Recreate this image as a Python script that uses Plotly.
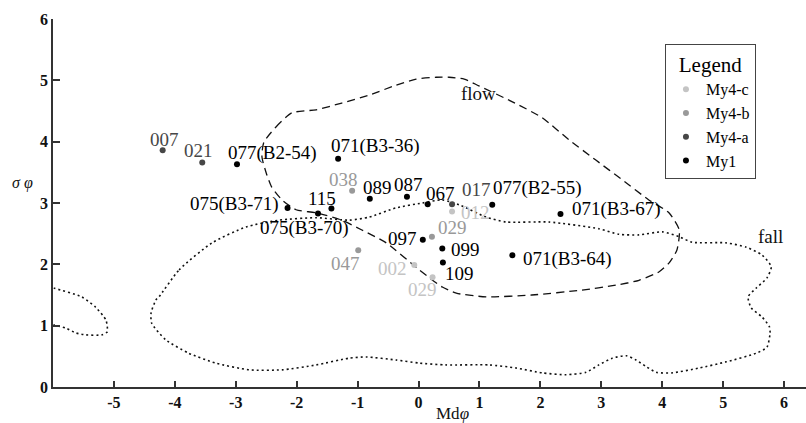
import plotly.graph_objects as go

# ---------------- data ----------------
MY1_LABELS = ["077(B2-54)", "071(B3-36)", "089", "087", "115", "075(B3-70)", "075(B3-71)",
              "067", "077(B2-55)", "071(B3-67)", "097", "099", "109", "071(B3-64)"]
MY1_MD = [-2.98, -1.32, -0.80, -0.19, -1.43, -1.65, -2.15, 0.15, 1.21, 2.33, 0.07, 0.39, 0.40, 1.54]
MY1_SIGMA = [3.63, 3.72, 3.07, 3.10, 2.91, 2.83, 2.92, 2.98, 2.97, 2.82, 2.40, 2.26, 2.03, 2.15]

MY4A_LABELS = ["007", "021", "017"]
MY4A_MD = [-4.20, -3.55, 0.55]
MY4A_SIGMA = [3.86, 3.66, 2.98]

MY4B_LABELS = ["038", "029", "047"]
MY4B_MD = [-1.09, 0.22, -0.99]
MY4B_SIGMA = [3.20, 2.45, 2.23]

MY4C_LABELS = ["012", "002", "029"]
MY4C_MD = [0.55, -0.07, 0.23]
MY4C_SIGMA = [2.86, 1.99, 1.79]

# field boundaries (Md phi, sigma phi)
FLOW_MD = [-2.54, -2.34, -2.08, -1.68, -1.26, -0.81, -0.37, -0.04, 0.29, 0.50, 0.75, 0.99, 1.54,
           2.03, 2.47, 2.91, 3.34, 3.78, 4.11, 4.28, 4.24, 4.11, 3.95, 3.62, 3.24, 2.68, 1.86,
           1.11, 0.62, 0.39, 0.01, -0.53, -0.93, -1.26, -1.68, -2.01, -2.24, -2.41, -2.50,
           -2.57, -2.54]
FLOW_SIGMA = [3.99, 4.24, 4.47, 4.52, 4.63, 4.76, 4.92, 5.02, 5.05, 5.05, 5.02, 4.91, 4.65,
              4.39, 4.03, 3.70, 3.38, 3.05, 2.84, 2.56, 2.23, 2.02, 1.88, 1.74, 1.66, 1.58, 1.50,
              1.47, 1.53, 1.63, 1.91, 2.35, 2.56, 2.72, 2.84, 2.89, 3.05, 3.26, 3.49,
              3.75, 3.99]

FALL_MD = [-4.26, -3.93, -3.39, -2.83, -2.29, -1.68, -1.14, -0.81, -0.37, 0.06, 0.39, 0.67,
           1.11, 1.44, 2.14, 2.96, 3.29, 3.62, 4.00, 4.28, 4.49, 5.05, 5.38, 5.64, 5.79, 5.72,
           5.54, 5.41, 5.46, 5.64, 5.76, 5.77, 5.72, 5.54, 5.05, 4.61, 4.16, 3.90, 3.74, 3.57,
           3.41, 3.18, 2.96, 2.75, 2.42, 2.03, 1.60, 1.16, 0.45, 0.01, -0.37, -0.86, -1.14,
           -1.68, -2.24, -2.78, -3.33, -3.77, -4.15, -4.38, -4.39, -4.31, -4.26]
FALL_SIGMA = [1.47, 1.91, 2.35, 2.61, 2.72, 2.76, 2.72, 2.77, 2.92, 3.00, 3.05, 2.97,
              2.77, 2.69, 2.69, 2.58, 2.49, 2.48, 2.53, 2.45, 2.36, 2.35, 2.28, 2.15, 1.96, 1.78,
              1.61, 1.47, 1.29, 1.14, 0.98, 0.88, 0.65, 0.55, 0.41, 0.31, 0.23, 0.24, 0.33, 0.44,
              0.51, 0.47, 0.36, 0.24, 0.20, 0.23, 0.31, 0.36, 0.36, 0.39, 0.44, 0.49, 0.47,
              0.36, 0.28, 0.28, 0.39, 0.55, 0.77, 1.04, 1.21, 1.42, 1.47]

FALL2_MD = [-6.15, -5.98, -5.53, -5.30, -5.13, -5.11, -5.20, -5.46, -5.62, -5.79, -5.98, -6.15]
FALL2_SIGMA = [1.65, 1.61, 1.47, 1.30, 1.09, 0.90, 0.85, 0.85, 0.88, 0.96, 1.01, 1.06]

X_TICKS = [-6, -5, -4, -3, -2, -1, 0, 1, 2, 3, 4, 5, 6]
X_TICKTEXT = ["", "-5", "-4", "-3", "-2", "-1", "0", "1", "2", "3", "4", "5", "6"]
Y_TICKS = [0, 1, 2, 3, 4, 5, 6]

# ---------------- styles ----------------
SERIF = "Liberation Serif"
SERIES = [
    ("My4-c", MY4C_LABELS, MY4C_MD, MY4C_SIGMA, "#c4c4c4"),
    ("My4-b", MY4B_LABELS, MY4B_MD, MY4B_SIGMA, "#999999"),
    ("My4-a", MY4A_LABELS, MY4A_MD, MY4A_SIGMA, "#474747"),
    ("My1", MY1_LABELS, MY1_MD, MY1_SIGMA, "#000000"),
]
# label placement: (xanchor, dx px, dy px downward)
LABEL_POS = {
    "My1": [("left", -11, -11.3), ("left", -9.3, -12.6), ("left", -9.3, -11.2), ("left", -15.3, -12.7),
            ("center", -9, -10), ("center", -13.7, 14.2), ("right", -6.6, -3.7),
            ("left", -3.3, -11), ("left", -1.6, -16.7), ("left", 10, -5.1), ("right", -4, -1.7),
            ("left", 6.7, 0.9), ("center", 16.8, 11), ("left", 8.4, 3.9)],
    "My4-a": [("center", 2, -10.5), ("center", -4, -11.7), ("left", 8.4, -14.3)],
    "My4-b": [("center", -8.3, -11.5), ("center", 20.3, -9.2), ("center", -12.6, 13.3)],
    "My4-c": [("left", 6.7, 1), ("right", -5.3, 3.6), ("center", -10, 11.9)],
}

fig = go.Figure()

fig.add_trace(go.Scatter(x=FLOW_MD, y=FLOW_SIGMA, mode="lines", showlegend=False, hoverinfo="skip",
                         line=dict(color="#111111", width=1.3, dash="8px,5px", shape="spline", smoothing=0.6)))
fig.add_trace(go.Scatter(x=FALL_MD, y=FALL_SIGMA, mode="lines", showlegend=False, hoverinfo="skip",
                         line=dict(color="#111111", width=1.6, dash="2px,3px", shape="spline", smoothing=0.6)))
fig.add_trace(go.Scatter(x=FALL2_MD, y=FALL2_SIGMA, mode="lines", showlegend=False, hoverinfo="skip",
                         line=dict(color="#111111", width=1.6, dash="2px,3px", shape="spline", smoothing=0.6)))

annotations = []
for name, labels, xs, ys, color in SERIES:
    fig.add_trace(go.Scatter(x=xs, y=ys, mode="markers", name=name,
                             marker=dict(color=color, size=6), text=labels))
    for lab, x, y, (anchor, dx, dy) in zip(labels, xs, ys, LABEL_POS[name]):
        annotations.append(dict(x=x, y=y, text=lab, showarrow=False, xanchor=anchor, yanchor="middle",
                                xshift=dx, yshift=-dy, font=dict(family=SERIF, size=19, color=color)))

annotations.append(dict(x=0.98, y=4.79, text="flow", showarrow=False,
                        font=dict(family=SERIF, size=19, color="#111")))
annotations.append(dict(x=5.78, y=2.46, text="fall", showarrow=False,
                        font=dict(family=SERIF, size=19, color="#111")))
annotations.append(dict(x=0.53, xref="paper", y=0, yref="paper", yshift=-26, yanchor="middle",
                        text="Md<i>φ</i>", showarrow=False, font=dict(family=SERIF, size=17, color="#111")))
annotations.append(dict(x=0, xref="paper", xshift=-31, y=3.32, yref="y", xanchor="center",
                        text="<i>σ</i> <i>φ</i>", showarrow=False, font=dict(family=SERIF, size=16, color="#111")))

axis_font = dict(family=SERIF, size=16, color="#111", weight="bold")
fig.update_layout(
    width=806, height=423,
    margin=dict(l=53, r=0, t=19, b=36),
    paper_bgcolor="white", plot_bgcolor="white",
    showlegend=True,
    legend=dict(x=0.8127, y=0.932, xanchor="left", yanchor="top",
                bgcolor="white", bordercolor="#444", borderwidth=1,
                title=dict(text="Legend", side="top center",
                           font=dict(family=SERIF, size=21, color="#000")),
                font=dict(family=SERIF, size=16, color="#000"),
                itemwidth=30, traceorder="normal"),
    annotations=annotations,
    xaxis=dict(range=[-6, 6.36], tickmode="array", tickvals=X_TICKS, ticktext=X_TICKTEXT,
               showgrid=False, zeroline=False, showline=True, linecolor="#333", linewidth=1.5,
               ticks="inside", ticklen=6, tickcolor="#333", tickwidth=1.5, tickfont=axis_font),
    yaxis=dict(range=[0, 6], tickmode="array", tickvals=Y_TICKS,
               showgrid=False, zeroline=False, showline=True, linecolor="#333", linewidth=1.5,
               ticks="inside", ticklen=7, tickcolor="#333", tickwidth=1.5, tickfont=axis_font),
    xaxis2=dict(overlaying="x", matches="x", anchor="y", side="bottom", tickmode="array",
                tickvals=X_TICKS, showticklabels=False, showgrid=False, zeroline=False, showline=False,
                ticks="outside", ticklen=3, tickcolor="#333", tickwidth=1.5),
    yaxis2=dict(overlaying="y", matches="y", anchor="x", side="left", tickmode="array",
                tickvals=Y_TICKS, showticklabels=False, showgrid=False, zeroline=False, showline=False,
                ticks="outside", ticklen=4, tickcolor="#333", tickwidth=1.5),
)

fig.write_html("out.html", config={"displayModeBar": False},
               post_script="document.body.style.margin='0px';")
